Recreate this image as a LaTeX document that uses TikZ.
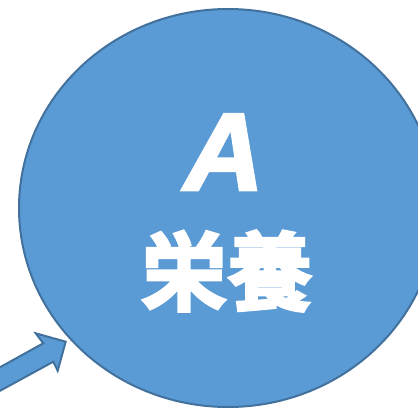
\documentclass[tikz,border=0pt]{standalone}
\usepackage{fontspec}
\usetikzlibrary{shapes.geometric}
\newfontfamily\cjk{Noto Sans CJK JP}[BoldFont={* Bold}, BoldFeatures={FakeBold=3}]
\newfontfamily\latinb{Liberation Sans}[BoldItalicFeatures={FakeBold=2.5}]
\definecolor{fillblue}{HTML}{5B9BD5}
\definecolor{edgeblue}{HTML}{41719C}
\tikzset{
  blueshape/.style={fill=fillblue, draw=edgeblue, line width=2pt, line join=miter},
  labeltext/.style={text=white, inner sep=0pt}
}
\begin{document}
\begin{tikzpicture}[x=1pt,y=-1pt]
\useasboundingbox (0,0) rectangle (418,410);
\clip (0,0) rectangle (418,410);
\fill[white] (0,0) rectangle (418,410);
% big ellipse
\node[blueshape, ellipse, minimum width=418pt, minimum height=398pt, inner sep=0pt] (circ) at (228,208) {};
% block arrow
\coordinate (tip) at (65.7,341.7);
\draw[blueshape] (tip) -- (35.7,333.3) -- (43.3,343.3) -- (-20,378.3) -- (-20,401.7) -- (53.3,361.7) -- (57.7,370.7) -- cycle;
% texts
\node[labeltext, anchor=base, font=\latinb\bfseries\itshape\fontsize{110}{110}\selectfont] (a) at (224,190) {A};
\node[labeltext, anchor=center, font=\cjk\bfseries\fontsize{86}{86}\selectfont] (eiyo) at (227,271) {栄養};
\end{tikzpicture}
\end{document}
